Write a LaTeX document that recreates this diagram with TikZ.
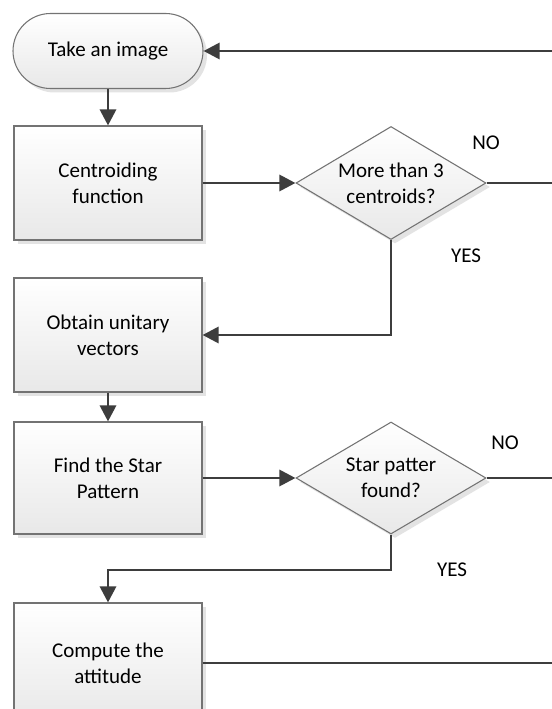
\documentclass[tikz,border=0pt]{standalone}
\usepackage{fontspec}
\setmainfont{Carlito}
\usetikzlibrary{shapes.geometric,shapes.misc,arrows.meta,shadows}
\begin{document}
\begin{tikzpicture}[x=0.75pt,y=-0.75pt,
  font=\fontsize{15.75}{19.3}\selectfont,
  shape3d/.style={draw=black!55, line width=0.8pt, top color=white, bottom color=black!9,
    drop shadow={shadow xshift=3pt,shadow yshift=-3pt,fill=black!11,opacity=1},
    align=center, inner sep=0pt},
  terminal/.style={shape3d, rounded rectangle, minimum width=142.5pt, minimum height=56.25pt},
  procbox/.style={shape3d, rectangle, minimum width=141pt, minimum height=85.5pt},
  decision/.style={shape3d, diamond, aspect=1.68, minimum width=142.5pt, minimum height=84.75pt},
  conn/.style={draw=black!76, line width=2.2pt},
  arr/.style={conn, -{Triangle[length=12pt,width=12pt]}}]
  \useasboundingbox (0,0) rectangle (552,709);
  \fill[white] (0,0) rectangle (552,709);
  \clip (0,0) rectangle (552,709);

  % flowchart blocks
  \node[terminal] (take) at (108,51) {Take an image};
  \node[procbox] (cent) at (108,183) {Centroiding\\function};
  \node[decision] (more) at (391,183) {More than 3\\centroids?};
  \node[procbox] (unit) at (108,335) {Obtain unitary\\vectors};
  \node[procbox, minimum height=84pt] (find) at (108,478) {Find the Star\\Pattern};
  \node[decision, minimum height=84pt] (found) at (391,478) {Star patter\\found?};
  \node[procbox, minimum height=90pt] (att) at (108,663) {Compute the\\attitude};

  % branch labels
  \node (no1) at (486,143) {NO};
  \node (yes1) at (466,256) {YES};
  \node (no2) at (505,443) {NO};
  \node (yes2) at (452,570) {YES};

  % loop ends at the right edge
  \coordinate (back) at (552,51);
  \coordinate (out1) at (552,183);
  \coordinate (out2) at (552,478);
  \coordinate (out3) at (552,663);
  \coordinate (turn) at (391,570);

  % connectors
  \draw[arr] (back) -- (take.east);
  \draw[arr] (take.south) -- (cent.north);
  \draw[arr] (cent.east) -- (more.west);
  \draw[conn] (more.east) -- (out1);
  \draw[arr] (more.south) |- (unit.east);
  \draw[arr] (unit.south) -- (find.north);
  \draw[arr] (find.east) -- (found.west);
  \draw[conn] (found.east) -- (out2);
  \draw[arr] (found.south) -- (turn) -| (att.north);
  \draw[conn] (att.east) -- (out3);
\end{tikzpicture}
\end{document}
